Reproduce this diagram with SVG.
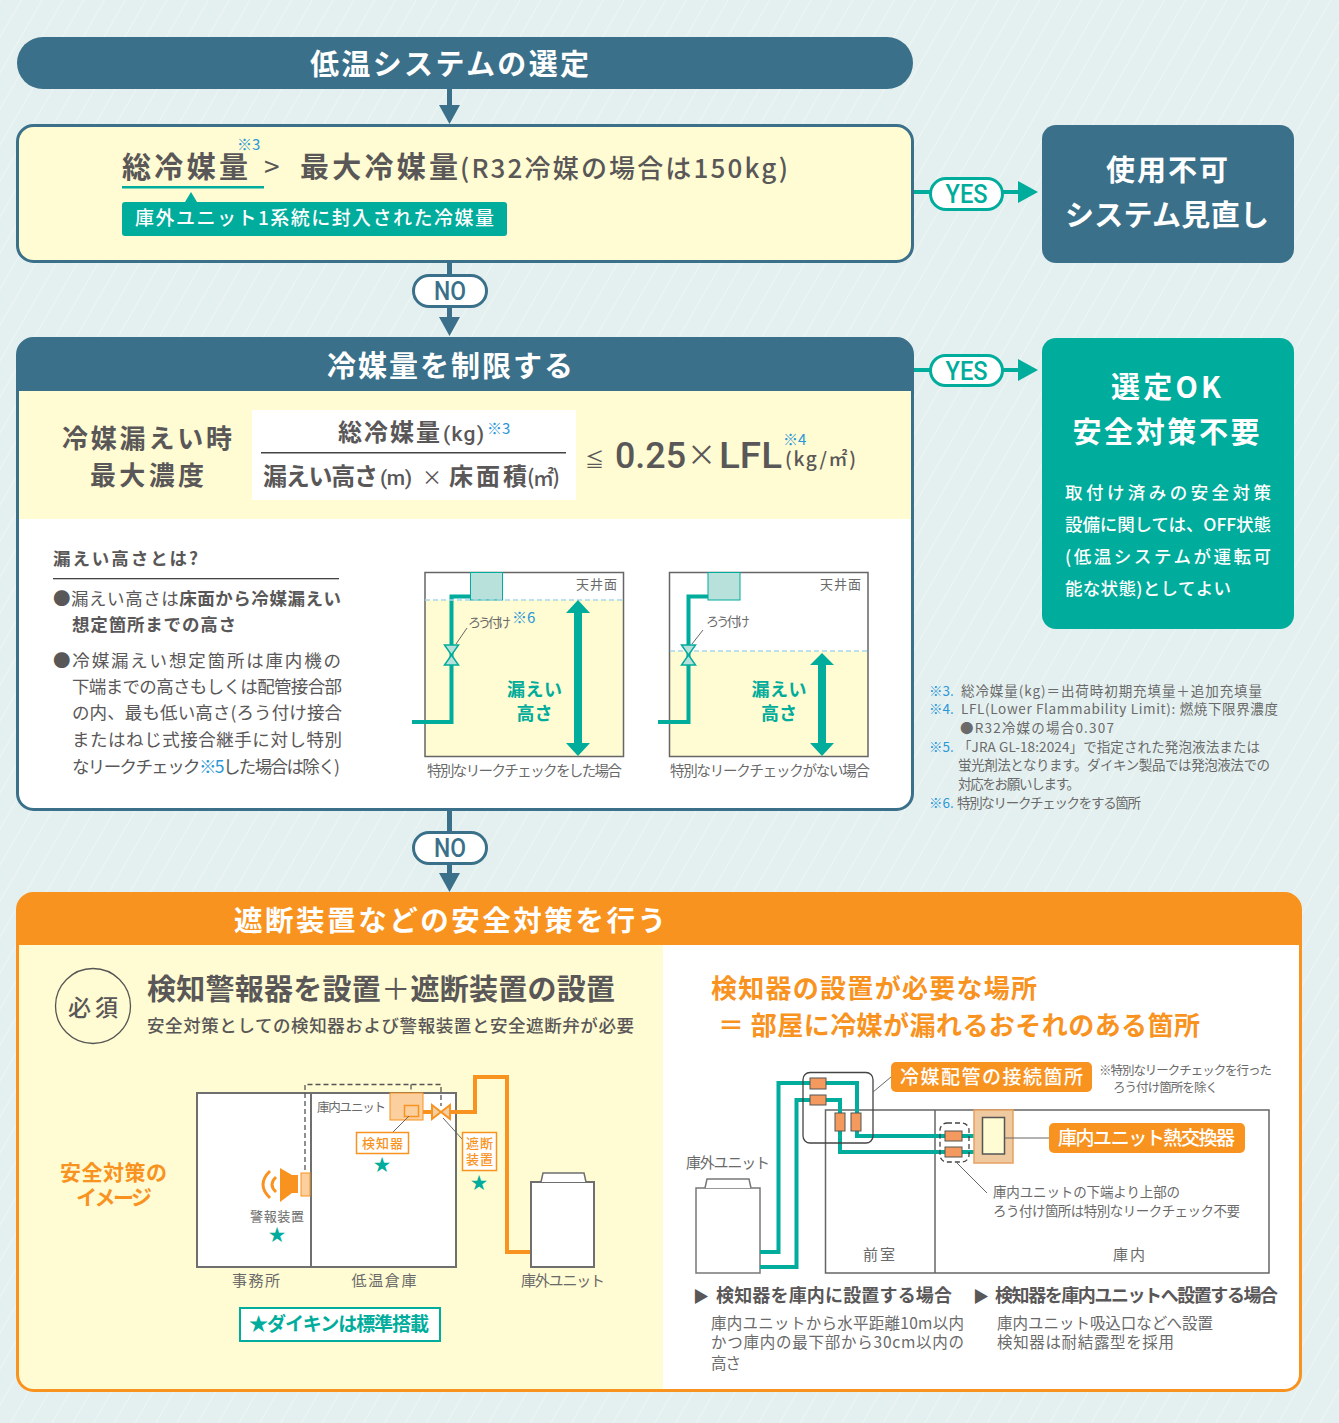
<svg xmlns="http://www.w3.org/2000/svg" width="1339" height="1423" viewBox="0 0 1339 1423">
<defs>
<style>
text{font-family:"Noto Sans CJK JP","Noto Sans",sans-serif;fill:#595757;font-weight:500}
.b{font-weight:700}
.r{font-weight:400}
.w{fill:#fff}
.t{fill:#00ac9b}
.o{fill:#f8931f}
.bl{fill:#2a97d8;font-weight:400}
.g{fill:#6a6a6a;font-weight:400}
.m{text-anchor:middle}
.dk{fill:#3a7089}
.tl{fill:#00ac9b}
.or{fill:#f8931f}
.fr{stroke:#3a7089;stroke-width:3}
.wall{fill:#fff;stroke:#6f6f6f;stroke-width:2}
.pt{fill:none;stroke:#00ac9b;stroke-width:4}
.po{fill:none;stroke:#f8931f;stroke-width:4}
.j{fill:#f59a5e;stroke:#555;stroke-width:1}
.ld{fill:none;stroke:#666;stroke-width:1}
.din{font-family:"Roboto","Noto Sans",sans-serif}
</style>
<pattern id="st" width="18" height="18" patternUnits="userSpaceOnUse" patternTransform="rotate(30)">
<rect width="18" height="18" fill="#e4f0ef"/><rect width="1" height="18" fill="#edf5f4"/>
</pattern>
<symbol id="valve" overflow="visible"><path d="M-7,-10H7L-7,10H7Z" fill="#b8e1dc" stroke="#00ac9b" stroke-width="1.5"/></symbol>
</defs>
<rect width="1339" height="1423" fill="url(#st)"/>

<g id="connectors">
<path d="M449.5,89V108M449.5,262V275M449.5,307V320M449.5,810V832M449.5,864V876" fill="none" stroke="#3a7089" stroke-width="5"/>
<path d="M439,105H460L449.5,124ZM439,317H460L449.5,336ZM439,873H460L449.5,892Z" class="dk"/>
<path d="M913,192H930M1003,192H1021M913,370H930M1003,370H1021" fill="none" stroke="#00ac9b" stroke-width="4"/>
<path d="M1018,181L1038,192L1018,203ZM1018,359L1038,370L1018,381Z" class="tl"/>
</g>

<g id="start"><rect x="17" y="37" width="896" height="52" rx="26" class="dk"/>
<text x="310" y="75" class="w b" font-size="29" textLength="279">低温システムの選定</text></g>

<g id="check1"><rect x="17.5" y="125.500" width="895" height="136" rx="16" fill="#fffbd2" class="fr"/>
<text x="122" y="178" font-size="29" class="b" textLength="126">総冷媒量</text>
<text x="237" y="150" font-size="15" class="bl din-none">※3</text>
<text x="264" y="177" font-size="28" class="r">&gt;</text>
<text x="300" y="178" font-size="29" class="b" textLength="158">最大冷媒量</text>
<text x="460" y="178" font-size="26" textLength="328">(R32冷媒の場合は150kg)</text>
<rect x="122" y="186" width="142" height="2.500" class="tl"/>
<path d="M191,192L197,202H185Z" class="tl"/>
<rect x="122" y="202" width="385" height="34" rx="3" class="tl"/>
<text x="135" y="225" font-size="19" class="w" textLength="359">庫外ユニット1系統に封入された冷媒量</text></g>

<g id="yes1"><rect x="930.500" y="178.500" width="72" height="31" rx="15.500" fill="#fff" stroke="#00ac9b" stroke-width="3"/>
<text x="966.500" y="203" font-size="25" class="t m din" textLength="42" lengthAdjust="spacingAndGlyphs">YES</text></g>
<g id="ng"><rect x="1042" y="125" width="252" height="138" rx="14" class="dk"/>
<text x="1167" y="181" font-size="29" class="w m b" textLength="122">使用不可</text>
<text x="1167" y="226" font-size="29" class="w m b" textLength="204">システム見直し</text></g>
<g id="no1"><rect x="413.500" y="275.500" width="73" height="31" rx="15.500" fill="#fff" stroke="#3a7089" stroke-width="3"/>
<text x="450" y="300" font-size="25" class="m din" textLength="32" lengthAdjust="spacingAndGlyphs" style="fill:#3a7089">NO</text></g>

<g id="limit">
<rect x="17.500" y="338.500" width="895" height="471" rx="16" fill="#fff"/>
<path d="M17,391V354A16,16 0 0 1 33,338H897A16,16 0 0 1 913,354V391Z" class="dk"/>
<rect x="19" y="391" width="892" height="128" fill="#fffbd2"/>
<rect x="17.500" y="338.500" width="895" height="471" rx="16" fill="none" class="fr"/>
<text x="327" y="377" font-size="29" class="w b" textLength="246">冷媒量を制限する</text>
<text x="62" y="448" font-size="26" class="b" textLength="170">冷媒漏えい時</text>
<text x="90" y="485" font-size="26" class="b" textLength="114">最大濃度</text>
<rect x="252" y="410" width="324" height="90" fill="#fff"/>
<rect x="261" y="452" width="305" height="1.500" fill="#444"/>
<text x="338" y="441" font-size="24" class="b" textLength="102">総冷媒量</text>
<text x="443" y="441" font-size="21" class="din" textLength="41">(kg)</text>
<text x="487" y="434" font-size="15" class="bl">※3</text>
<text x="263" y="485" font-size="24" class="b" textLength="115">漏えい高さ</text>
<text x="380" y="485" font-size="21" class="din" textLength="32">(m)</text>
<text x="422" y="485" font-size="20" class="r">×</text>
<text x="449" y="485" font-size="24" class="b" textLength="78">床面積</text>
<text x="527" y="485" font-size="21" textLength="33">(㎡)</text>
<text x="585" y="467" font-size="19" class="r">≦</text>
<text x="615" y="468" font-size="37" class="din" textLength="71" lengthAdjust="spacingAndGlyphs">0.25</text>
<text x="687" y="466" font-size="29" style="font-weight:400">×</text>
<text x="719" y="468" font-size="37" class="din" textLength="63" lengthAdjust="spacingAndGlyphs">LFL</text>
<text x="783" y="445" font-size="15" class="bl">※4</text>
<text x="785" y="466" font-size="19" textLength="71">(kg/㎡)</text>
<text x="53" y="565" font-size="17.500" class="b" textLength="145">漏えい高さとは?</text>
<rect x="53" y="578" width="286" height="1.300" fill="#444"/>
<text x="53" y="605" font-size="17.500" class="r" textLength="288">●漏えい高さは<tspan class="b">床面から冷媒漏えい</tspan></text>
<text x="72" y="631" font-size="17.500" class="b" textLength="164">想定箇所までの高さ</text>
<text x="53" y="667" font-size="17.500" class="r" textLength="288">●冷媒漏えい想定箇所は庫内機の</text>
<text x="72" y="693" font-size="17.500" class="r" textLength="270">下端までの高さもしくは配管接合部</text>
<text x="72" y="719" font-size="17.500" class="r" textLength="270">の内、最も低い高さ(ろう付け接合</text>
<text x="72" y="746" font-size="17.500" class="r" textLength="270">またはねじ式接合継手に対し特別</text>
<text x="72" y="773" font-size="17.500" class="r" textLength="268">なリークチェック<tspan class="bl">※5</tspan>した場合は除く)</text>
</g>

<g id="fig-check">
<rect x="425" y="600" width="198" height="156" fill="#fffbd2"/>
<rect x="425" y="572.500" width="198.500" height="184" fill="none" stroke="#666" stroke-width="1.500"/>
<path d="M412,722H451.500V596.500H470" class="pt"/>
<rect x="470.500" y="572.500" width="32" height="27.500" fill="#b8e1dc" stroke="#00ac9b" stroke-width="1"/>
<path d="M425,600H623" fill="none" stroke="#a8d8ea" stroke-width="1.500" stroke-dasharray="5 3"/>
<use href="#valve" x="451.500" y="655"/>
<path d="M456,644L467,628" class="ld"/>
<text x="468" y="627" font-size="13" class="g" textLength="43">ろう付け</text>
<text x="512" y="623" font-size="15" class="bl">※6</text>
<text x="576" y="589" font-size="13" class="g" textLength="41">天井面</text>
<path d="M578,600L590,613H582V743H590L578,756L566,743H574V613H566Z" class="tl"/>
<text x="534.500" y="696" font-size="18" class="t b m" textLength="55">漏えい</text>
<text x="534.500" y="720" font-size="18" class="t b m" textLength="36">高さ</text>
<text x="427" y="776" font-size="14.500" class="g" textLength="195">特別なリークチェックをした場合</text>
</g>
<g id="fig-nocheck">
<rect x="670" y="651" width="198" height="105" fill="#fffbd2"/>
<rect x="669.500" y="572.500" width="198.500" height="184" fill="none" stroke="#666" stroke-width="1.500"/>
<path d="M658,722H688.500V596.500H708" class="pt"/>
<rect x="708" y="572.500" width="32" height="27.500" fill="#b8e1dc" stroke="#00ac9b" stroke-width="1"/>
<path d="M670,651H868" fill="none" stroke="#a8d8ea" stroke-width="1.500" stroke-dasharray="5 3"/>
<use href="#valve" x="688.500" y="655"/>
<path d="M692,644L703,630" class="ld"/>
<text x="706" y="626" font-size="13" class="g" textLength="44">ろう付け</text>
<text x="820" y="589" font-size="13" class="g" textLength="41">天井面</text>
<path d="M822,653L834,665H826V743H834L822,756L810,743H818V665H810Z" class="tl"/>
<text x="779" y="696" font-size="18" class="t b m" textLength="55">漏えい</text>
<text x="779" y="720" font-size="18" class="t b m" textLength="36">高さ</text>
<text x="670" y="776" font-size="14.500" class="g" textLength="200">特別なリークチェックがない場合</text>
</g>

<g id="yes2"><rect x="930.500" y="355.500" width="72" height="30" rx="15" fill="#fff" stroke="#00ac9b" stroke-width="3"/>
<text x="966.500" y="380" font-size="25" class="t m din" textLength="42" lengthAdjust="spacingAndGlyphs">YES</text></g>
<g id="ok"><rect x="1042" y="338" width="252" height="291" rx="14" class="tl"/>
<text x="1166" y="398" font-size="29" class="w m b" textLength="110">選定OK</text>
<text x="1166" y="443" font-size="29" class="w m b" textLength="187">安全対策不要</text>
<g font-size="17.500"><text x="1065" y="499" class="w" textLength="206">取付け済みの安全対策</text>
<text x="1065" y="531" class="w" textLength="206">設備に関しては、OFF状態</text>
<text x="1065" y="563" class="w" textLength="206">(低温システムが運転可</text>
<text x="1065" y="595" class="w" textLength="166">能な状態)としてよい</text></g></g>

<g id="notes" font-size="13.500">
<text x="929" y="696" class="bl">※3.</text><text x="961" y="696" class="g" textLength="301">総冷媒量(kg)＝出荷時初期充填量＋追加充填量</text>
<text x="929" y="714" class="bl">※4.</text><text x="961" y="714" class="g" textLength="317">LFL(Lower Flammability Limit): 燃焼下限界濃度</text>
<text x="960" y="733" class="g" textLength="154">●R32冷媒の場合0.307</text>
<text x="929" y="752" class="bl">※5.</text><text x="958" y="752" class="g" textLength="302">「JRA GL-18:2024」で指定された発泡液法または</text>
<text x="958" y="770" class="g" textLength="312">蛍光剤法となります。ダイキン製品では発泡液法での</text>
<text x="958" y="789" class="g" textLength="122">対応をお願いします。</text>
<text x="929" y="808" class="bl">※6.</text><text x="957" y="808" class="g" textLength="184">特別なリークチェックをする箇所</text>
</g>

<g id="no2"><rect x="413.500" y="832.500" width="73" height="31" rx="15.500" fill="#fff" stroke="#3a7089" stroke-width="3"/>
<text x="450" y="857" font-size="25" class="m din" textLength="32" lengthAdjust="spacingAndGlyphs" style="fill:#3a7089">NO</text></g>

<g id="safety">
<rect x="17.500" y="893.500" width="1283" height="497" rx="16" fill="#fff"/>
<path d="M18,1375V945H663V1390H33A15,15 0 0 1 18,1375Z" fill="#fffbd2"/>
<path d="M17,945V909A16,16 0 0 1 33,893H1285A16,16 0 0 1 1301,909V945Z" class="or"/>
<rect x="17.500" y="893.500" width="1283" height="497" rx="16" fill="none" stroke="#f8931f" stroke-width="3"/>
<text x="234" y="931" font-size="28.500" class="w b" textLength="432">遮断装置などの安全対策を行う</text>
<circle cx="93" cy="1006" r="37.500" fill="none" stroke="#555" stroke-width="1.300"/>
<text x="93" y="1016" font-size="23" class="m" textLength="50">必須</text>
<text x="147" y="1000" font-size="29" class="b" textLength="468">検知警報器を設置<tspan class="r">＋</tspan>遮断装置の設置</text>
<text x="147" y="1032" font-size="17.500" textLength="487">安全対策としての検知器および警報装置と安全遮断弁が必要</text>
<text x="60" y="1180" font-size="21" class="o b" textLength="107">安全対策の</text>
<text x="114" y="1205" font-size="21" class="o b m" textLength="76">イメージ</text>
</g>

<g id="fig-image">
<rect x="197" y="1093" width="259" height="174" class="wall"/>
<path d="M311,1093V1267" class="wall"/>
<path d="M305,1170V1084.500H441V1106M411,1084.500V1106" fill="none" stroke="#555" stroke-width="1.300" stroke-dasharray="5 3"/>
<text x="317" y="1112" font-size="12.500" class="g" textLength="69">庫内ユニット</text>
<rect x="390" y="1093" width="33" height="27" fill="#fbcf9e" stroke="#f8931f" stroke-width="1"/>
<rect x="404.500" y="1105.500" width="14" height="11" fill="none" stroke="#f8931f" stroke-width="1.500"/>
<path d="M423,1112H432M449,1112H475V1077H507V1252H531" class="po"/>
<path d="M432,1105L450,1119V1105L432,1119Z" fill="#f2cfa5" stroke="#f8931f" stroke-width="2"/>
<path d="M409,1116L393,1132M443,1118L462,1139" class="ld"/>
<rect x="356.500" y="1132.500" width="52" height="21" fill="#fff" stroke="#f8931f" stroke-width="1.500"/>
<text x="382.500" y="1148" font-size="13" class="o m" textLength="41">検知器</text>
<rect x="462.500" y="1132.500" width="34" height="38" fill="#fff" stroke="#f8931f" stroke-width="1.500"/>
<text x="479.500" y="1148" font-size="13" class="o m" textLength="27">遮断</text>
<text x="479.500" y="1164" font-size="13" class="o m" textLength="27">装置</text>
<rect x="301" y="1173" width="9" height="23" fill="#fbcf9e" stroke="#f8931f" stroke-width="1"/>
<path d="M280,1168L292,1175H298V1193H292L280,1202Z" class="or"/>
<path d="M270,1171Q256,1184.500 270,1198M276,1177Q268,1184.500 276,1192" fill="none" stroke="#f8931f" stroke-width="3"/>
<text x="250" y="1221" font-size="13" class="g" textLength="54">警報装置</text>
<text x="382" y="1171" font-size="17" class="t m">★</text>
<text x="479" y="1189" font-size="17" class="t m">★</text>
<text x="277" y="1241" font-size="17" class="t m">★</text>
<text x="256" y="1286" font-size="15" class="g m" textLength="48">事務所</text>
<text x="384" y="1286" font-size="15" class="g m" textLength="65">低温倉庫</text>
<rect x="531" y="1182" width="63" height="85" class="wall" stroke-width="1.500"/>
<path d="M541,1182L543,1173H584L586,1182" fill="#fff" stroke="#6f6f6f" stroke-width="1.500"/>
<text x="521" y="1286" font-size="15" class="g" textLength="84">庫外ユニット</text>
<rect x="240" y="1308" width="200" height="33" fill="#fff" stroke="#00ac9b" stroke-width="2"/>
<text x="249" y="1331" font-size="19" class="t b" textLength="180">★ダイキンは標準搭載</text>
</g>

<g id="where">
<text x="711" y="998" font-size="26" class="o b" textLength="326">検知器の設置が必要な場所</text>
<text x="718" y="1035" font-size="26" class="o b" textLength="482">＝ 部屋に冷媒が漏れるおそれのある箇所</text>
</g>

<g id="fig-where">
<rect x="825.500" y="1110" width="443.500" height="163" fill="#fff" stroke="#666" stroke-width="1.500"/>
<path d="M935,1110V1273" fill="none" stroke="#666" stroke-width="1.500"/>
<rect x="696" y="1188" width="64" height="85" fill="#fff" stroke="#777" stroke-width="1.500"/>
<path d="M705,1188L707,1179H749L751,1188" fill="#fff" stroke="#777" stroke-width="1.500"/>
<path d="M760,1252H778.500V1083H857V1136H974M760,1267H796.500V1100H840V1152H974" class="pt"/>
<rect x="974" y="1110" width="39" height="53" fill="#efc9a0" stroke="#e8a060" stroke-width="1.500"/>
<rect x="982.500" y="1117.500" width="22" height="36.500" fill="#fffbd2" stroke="#555" stroke-width="1.500"/>
<rect x="810" y="1078" width="16" height="11" class="j"/>
<rect x="810" y="1095" width="16" height="10" class="j"/>
<rect x="835" y="1113" width="10" height="18" class="j"/>
<rect x="851" y="1113" width="10" height="18" class="j"/>
<rect x="945" y="1131" width="17" height="10" class="j"/>
<rect x="945" y="1147" width="17" height="10" class="j"/>
<rect x="803" y="1072.500" width="70" height="70.500" rx="7" fill="none" stroke="#444" stroke-width="1.300"/>
<rect x="940" y="1123" width="29" height="39" rx="7" fill="none" stroke="#444" stroke-width="1.300" stroke-dasharray="5 3"/>
<path d="M873,1092L891,1077M1005,1138H1049M957,1163L987,1193" class="ld"/>
<rect x="891" y="1062" width="201" height="30" rx="5" class="or"/>
<text x="900" y="1084" font-size="19" class="w" textLength="183">冷媒配管の接続箇所</text>
<text x="1099" y="1075" font-size="12.500" class="g" textLength="173">※特別なリークチェックを行った</text>
<text x="1113" y="1092" font-size="12.500" class="g" textLength="105">ろう付け箇所を除く</text>
<rect x="1049" y="1123" width="196" height="30" rx="5" class="or"/>
<text x="1058" y="1145" font-size="19" class="w" textLength="177">庫内ユニット熱交換器</text>
<text x="993" y="1197" font-size="13.500" class="g" textLength="187">庫内ユニットの下端より上部の</text>
<text x="993" y="1216" font-size="13.500" class="g" textLength="247">ろう付け箇所は特別なリークチェック不要</text>
<text x="879" y="1260" font-size="15" class="g m" textLength="32">前室</text>
<text x="1129" y="1260" font-size="15" class="g m" textLength="32">庫内</text>
<text x="686" y="1168" font-size="15" class="g" textLength="84">庫外ユニット</text>
</g>

<g id="where-text">
<text x="693" y="1302" font-size="16" class="b">▶</text>
<text x="716" y="1302" font-size="18" class="b" textLength="236">検知器を庫内に設置する場合</text>
<text x="973" y="1302" font-size="16" class="b">▶</text>
<text x="995" y="1302" font-size="18" class="b" textLength="283">検知器を庫内ユニットへ設置する場合</text>
<text x="711" y="1329" font-size="15.500" class="g" textLength="253">庫内ユニットから水平距離10m以内</text>
<text x="711" y="1348" font-size="15.500" class="g" textLength="253">かつ庫内の最下部から30cm以内の</text>
<text x="711" y="1369" font-size="15.500" class="g" textLength="30">高さ</text>
<text x="997" y="1329" font-size="15.500" class="g" textLength="216">庫内ユニット吸込口などへ設置</text>
<text x="997" y="1348" font-size="15.500" class="g" textLength="177">検知器は耐結露型を採用</text>
</g>
</svg>
